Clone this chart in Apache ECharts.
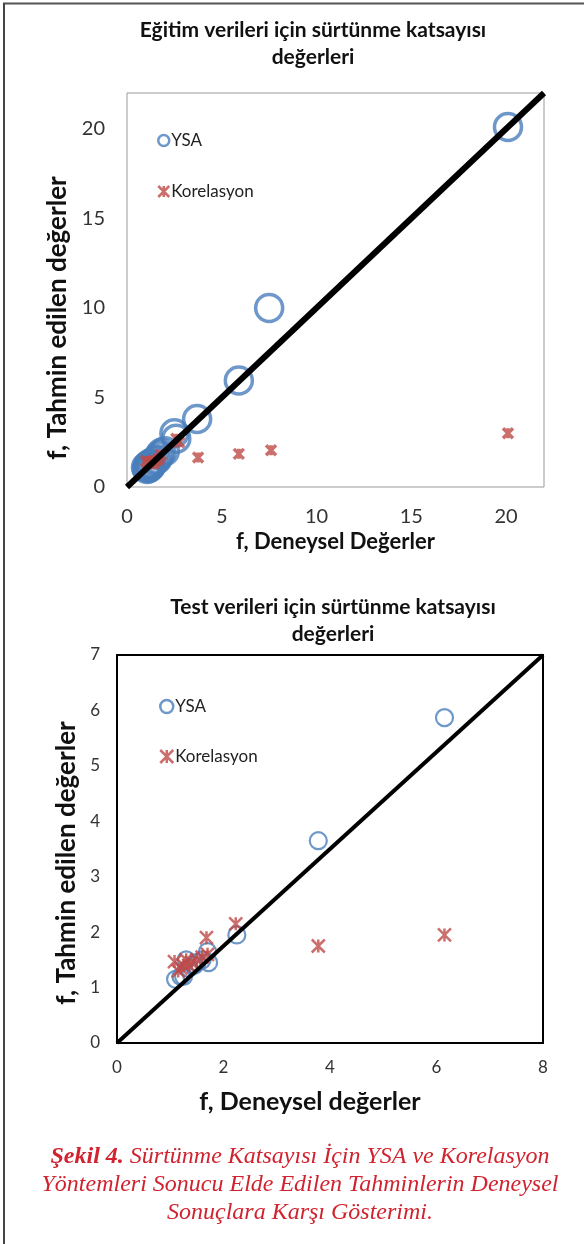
<!DOCTYPE html>
<html>
<head>
<meta charset="utf-8">
<script src="https://cdn.jsdelivr.net/npm/echarts@6/dist/echarts.min.js"></script>
<style>
  html, body { margin: 0; padding: 0; background: #fff; }
  #chart { width: 584px; height: 1244px; }
</style>
</head>
<body>
<div id="chart"></div>
<script>
// Eğitim (training) data
const trainYsaX = [1.0, 1.05, 1.1, 1.15, 1.2, 1.25, 1.3, 1.4, 1.5, 1.6, 1.7, 1.8, 2.0, 2.5, 2.6, 3.7, 5.9, 7.5, 20.1];
const trainYsaY = [1.1, 1.0, 1.2, 1.05, 1.3, 1.15, 1.25, 1.4, 1.5, 1.55, 1.75, 1.9, 2.0, 3.0, 2.7, 3.8, 5.95, 10.0, 20.1];
const trainKorX = [1.0, 1.1, 1.2, 1.3, 1.4, 1.5, 1.6, 1.7, 1.8, 2.6, 2.75, 3.75, 5.9, 7.6, 20.1];
const trainKorY = [1.45, 1.3, 1.35, 1.45, 1.3, 1.45, 1.5, 1.6, 1.8, 2.7, 2.5, 1.65, 1.85, 2.05, 3.0];

// Test data
const testYsaX = [1.1, 1.2, 1.25, 1.3, 1.35, 1.45, 1.5, 1.6, 1.7, 1.72, 2.25, 3.78, 6.15];
const testYsaY = [1.15, 1.2, 1.2, 1.5, 1.35, 1.4, 1.45, 1.5, 1.65, 1.45, 1.95, 3.65, 5.87];
const testKorX = [1.08, 1.15, 1.2, 1.25, 1.3, 1.35, 1.4, 1.5, 1.6, 1.7, 1.68, 2.23, 3.78, 6.15];
const testKorY = [1.47, 1.3, 1.35, 1.4, 1.5, 1.4, 1.45, 1.5, 1.55, 1.6, 1.9, 2.15, 1.75, 1.95];

// y = x reference lines
const trainRefLine = [[0, 0], [22, 22]];
const testRefLine = [[0, 0], [8, 7]];

// caption lines
const captionLines = [
  '{b|Şekil 4.} Sürtünme Katsayısı İçin YSA ve Korelasyon',
  'Yöntemleri Sonucu Elde Edilen Tahminlerin Deneysel',
  'Sonuçlara Karşı Gösterimi.'
];

const blue = '#4a7ebb';
const red = '#be4b48';
const capRed = '#d0232f';
const font = 'Lato';
const star = 'path://M0 0 L10 10 M10 0 L0 10 M5 0 L5 10';

const zip = (xs, ys) => xs.map((x, i) => [x, ys[i]]);

const chart = echarts.init(document.getElementById('chart'));

const captionText = captionLines.map((line, i) => ({
  type: 'text', x: 300, y: 1157 + i * 28,
  style: {
    text: line, align: 'center', verticalAlign: 'middle', fill: capRed,
    font: 'italic 24px "Liberation Serif"',
    rich: { b: { fontWeight: 'bold', fontStyle: 'italic', fontSize: 24, fontFamily: 'Liberation Serif', fill: capRed } }
  }
}));

const option = {
  animation: false,
  textStyle: { fontFamily: font },
  title: [{
    text: 'Eğitim verileri için sürtünme katsayısı\ndeğerleri',
    left: 308, top: 12, textAlign: 'center',
    textStyle: { fontSize: 21, fontWeight: 'bold', color: '#111', lineHeight: 27, fontFamily: font }
  }, {
    text: 'Test verileri için sürtünme katsayısı\ndeğerleri',
    left: 328, top: 589, textAlign: 'center',
    textStyle: { fontSize: 21, fontWeight: 'bold', color: '#111', lineHeight: 27, fontFamily: font }
  }],
  legend: [{
    orient: 'vertical', left: 152, top: 127,
    itemWidth: 11, itemHeight: 11, itemGap: 34,
    data: ['YSA', 'Korelasyon'],
    itemStyle: { borderWidth: 2.5 },
    textStyle: { fontSize: 17, color: '#222', padding: [0, 0, 0, -3] }
  }, {
    orient: 'vertical', left: 154, top: 693,
    itemWidth: 13, itemHeight: 13, itemGap: 33,
    data: ['YSA', 'Korelasyon'],
    itemStyle: { borderWidth: 2.5 },
    textStyle: { fontSize: 17, color: '#222', padding: [0, 0, 0, -3] }
  }],
  grid: [
    { left: 127, top: 93, width: 417, height: 394, show: true, borderColor: '#999', borderWidth: 1 },
    { left: 117, top: 655, width: 426, height: 388, show: true, borderColor: '#000', borderWidth: 2 }
  ],
  xAxis: [{
    gridIndex: 0, type: 'value', min: 0, max: 22, interval: 5,
    axisLine: { show: false }, axisTick: { show: false }, splitLine: { show: false },
    axisLabel: { fontSize: 20, color: '#333', margin: 20, showMaxLabel: false },
    name: 'f, Deneysel Değerler', nameLocation: 'middle', nameGap: 44,
    nameTextStyle: { fontSize: 22, fontWeight: 'bold', color: '#111' }
  }, {
    gridIndex: 1, type: 'value', min: 0, max: 8, interval: 2,
    axisLine: { show: false }, axisTick: { show: false }, splitLine: { show: false },
    axisLabel: { fontSize: 17, color: '#333', margin: 16 },
    name: 'f, Deneysel değerler', nameLocation: 'middle', nameGap: 46,
    nameTextStyle: { fontSize: 25, fontWeight: 'bold', color: '#111', padding: [0, 40, 0, 0] }
  }],
  yAxis: [{
    gridIndex: 0, type: 'value', min: 0, max: 22, interval: 5,
    axisLine: { show: false }, axisTick: { show: false }, splitLine: { show: false },
    axisLabel: { fontSize: 20, color: '#333', margin: 22, showMaxLabel: false },
    name: 'f, Tahmin edilen değerler', nameLocation: 'middle', nameGap: 52,
    nameTextStyle: { fontSize: 26, fontWeight: 'bold', color: '#111', padding: [0, 56, 0, 0] }
  }, {
    gridIndex: 1, type: 'value', min: 0, max: 7, interval: 1,
    axisLine: { show: false }, axisTick: { show: false }, splitLine: { show: false },
    axisLabel: { fontSize: 17, color: '#333', margin: 17 },
    name: 'f, Tahmin edilen değerler', nameLocation: 'middle', nameGap: 33,
    nameTextStyle: { fontSize: 26, fontWeight: 'bold', color: '#111', padding: [0, 28, 0, 0] }
  }],
  series: [
    {
      name: 'YSA', type: 'scatter', xAxisIndex: 0, yAxisIndex: 0,
      data: zip(trainYsaX, trainYsaY), symbol: 'circle', symbolSize: 27,
      itemStyle: { color: 'rgba(0,0,0,0)', borderColor: blue, borderWidth: 3.5 }
    },
    {
      name: 'Korelasyon', type: 'scatter', xAxisIndex: 0, yAxisIndex: 0,
      data: zip(trainKorX, trainKorY), symbol: star, symbolSize: 10,
      itemStyle: { color: 'rgba(0,0,0,0)', borderColor: red, borderWidth: 3.5 }
    },
    {
      type: 'line', xAxisIndex: 0, yAxisIndex: 0, data: trainRefLine,
      symbol: 'none', silent: true, lineStyle: { color: '#000', width: 6 }
    },
    {
      name: 'YSA', type: 'scatter', xAxisIndex: 1, yAxisIndex: 1,
      data: zip(testYsaX, testYsaY), symbol: 'circle', symbolSize: 17,
      itemStyle: { color: 'rgba(0,0,0,0)', borderColor: blue, borderWidth: 2.2 }
    },
    {
      name: 'Korelasyon', type: 'scatter', xAxisIndex: 1, yAxisIndex: 1,
      data: zip(testKorX, testKorY), symbol: star, symbolSize: 13,
      itemStyle: { color: 'rgba(0,0,0,0)', borderColor: red, borderWidth: 2.5 }
    },
    {
      type: 'line', xAxisIndex: 1, yAxisIndex: 1, data: testRefLine,
      symbol: 'none', silent: true, lineStyle: { color: '#000', width: 4 }
    }
  ],
  graphic: [
    { type: 'line', shape: { x1: 3, y1: 3.5, x2: 584, y2: 3.5 }, style: { stroke: '#555', lineWidth: 2 } },
    { type: 'line', shape: { x1: 4, y1: 3, x2: 4, y2: 1244 }, style: { stroke: '#444', lineWidth: 2 } }
  ].concat(captionText)
};

chart.setOption(option);
</script>
</body>
</html>
